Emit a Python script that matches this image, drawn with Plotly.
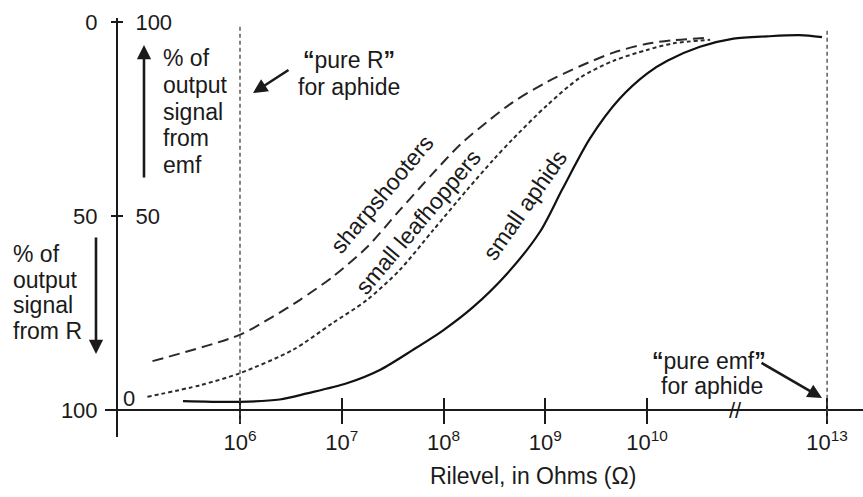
import plotly.graph_objects as go

# ---------------- data ----------------
# x = position on the (broken) log axis, expressed as the decade exponent; 10^13 sits just after the break
TICK_POS = [6, 7, 8, 9, 10, 11.77]
TICK_LABELS = ["10<sup>6</sup>", "10<sup>7</sup>", "10<sup>8</sup>", "10<sup>9</sup>",
               "10<sup>10</sup>", "10<sup>13</sup>"]
REF_LINES = [6, 11.77]          # "pure R" and "pure emf" for aphids
BREAK_POS = 10.87               # axis break mark

# y = % of output signal from emf
sharp_x = [5.14, 5.99, 6.32, 6.59, 6.91, 7.25, 7.57, 7.90, 8.16, 8.43, 8.68, 9.02, 9.34, 9.67, 10.0, 10.26, 10.59]
sharp_y = [12.6, 19.3, 24.0, 28.4, 34.3, 42.0, 51.5, 61.1, 68.3, 74.3, 79.3, 84.6, 88.6, 92.1, 94.4, 95.3, 95.9]

leaf_x = [5.09, 5.61, 6.0, 6.52, 6.91, 7.25, 7.57, 7.90, 8.23, 8.49, 8.68, 9.02, 9.34, 9.67, 10.0, 10.26, 10.62]
leaf_y = [3.4, 6.4, 9.5, 15.5, 22.4, 28.4, 36.1, 46.4, 56.7, 64.5, 69.8, 78.6, 85.6, 90.0, 92.8, 94.5, 95.4]

aph_x = [5.44, 6.0, 6.39, 6.66, 7.05, 7.38, 7.70, 8.0, 8.29, 8.62, 8.95, 9.17, 9.44, 9.73, 10.0,
         10.20, 10.52, 10.85, 11.18, 11.50, 11.72]
aph_y = [2.3, 2.1, 2.7, 4.3, 6.9, 10.4, 15.5, 20.6, 26.5, 35.0, 46.0, 57.0, 70.0, 80.2, 86.7,
         90.0, 93.6, 95.7, 96.3, 96.6, 96.1]

Y_LEFT_VALS = [0, 50, 100]
Y_LEFT_TEXT = ["100", "50", "0"]
Y_RIGHT_VALS = [50, 100]
Y_RIGHT_TEXT = ["50", "100"]

# ---------------- layout geometry ----------------
W, H = 863, 497
L, R, T, B = 105, 0, 18, 60
PW, PH = W - L - R, H - T - B
PX_DEC = 101.75          # pixels per decade
PX_PCT = 3.88            # pixels per percent
X_AXIS_PX = 410          # pixel row of the x axis line
Y_AXIS_PX = 117          # pixel column of the y axis line
x0 = 6 - (240 - L) / PX_DEC
x1 = x0 + PW / PX_DEC
y1 = (X_AXIS_PX - T) / PX_PCT
y0 = y1 - PH / PX_PCT

def xp(px):
    return (px - L) / PW

def yp(py):
    return (H - B - py) / PH

FONT = "Liberation Sans, Arial, sans-serif"
INK = "#1a1a1a"
FS = 23

fig = go.Figure()
fig.add_trace(go.Scatter(x=sharp_x, y=sharp_y, mode="lines", line=dict(color="#2a2a2a", width=2, dash="11px,6px", shape="spline", smoothing=0.8), hoverinfo="skip", showlegend=False))
fig.add_trace(go.Scatter(x=leaf_x, y=leaf_y, mode="lines", line=dict(color="#2a2a2a", width=2, dash="4px,3px", shape="spline", smoothing=0.8), hoverinfo="skip", showlegend=False))
fig.add_trace(go.Scatter(x=aph_x, y=aph_y, mode="lines", line=dict(color="#111111", width=2.2, shape="spline", smoothing=0.8), hoverinfo="skip", showlegend=False))
# invisible trace so the overlay axes (for crossing ticks) are drawn
fig.add_trace(go.Scatter(x=[None], y=[None], xaxis="x2", yaxis="y2", hoverinfo="skip", showlegend=False))

for xv, ya, yb in zip(REF_LINES, [-3.3, -2.5], [99.5, 98.0]):
    fig.add_shape(type="line", x0=xv, x1=xv, y0=ya, y1=yb, xref="x", yref="y",
                  line=dict(color="#444", width=1.3, dash="4px,3px"))

xpos = (H - B - X_AXIS_PX) / PH
ypos = (Y_AXIS_PX - L) / PW
common_x = dict(range=[x0, x1], showgrid=False, zeroline=False, fixedrange=True,
                tickvals=TICK_POS, anchor="free", position=xpos,
                tickcolor=INK, tickwidth=2)
common_y = dict(range=[y0, y1], showgrid=False, zeroline=False, fixedrange=True,
                anchor="free", position=ypos, tickcolor=INK, tickwidth=2)

fig.update_layout(
    width=W, height=H, margin=dict(l=L, r=R, t=T, b=B),
    paper_bgcolor="white", plot_bgcolor="white",
    font=dict(family=FONT, size=FS, color=INK),
    xaxis=dict(**common_x, ticktext=TICK_LABELS, showline=True, linecolor=INK, linewidth=2,
               ticks="outside", ticklen=13, tickfont=dict(size=FS - 1, color=INK)),
    xaxis2=dict(**common_x, overlaying="x", ticks="inside", ticklen=12, showticklabels=False, showline=False),
    yaxis=dict(**common_y, tickvals=Y_LEFT_VALS, ticktext=Y_LEFT_TEXT, showline=True, linecolor=INK,
               linewidth=2, ticks="outside", ticklen=5, ticklabelstandoff=9,
               tickfont=dict(size=FS - 1, color=INK)),
    yaxis2=dict(**common_y, overlaying="y", side="right", tickvals=Y_RIGHT_VALS, ticktext=Y_RIGHT_TEXT,
                ticks="outside", ticklen=5, ticklabelstandoff=8, showline=False,
                tickfont=dict(size=FS - 1, color=INK)),
    showlegend=False,
)

ann = []
def text(px, py, s, xa="left", ya="middle", size=FS, angle=0):
    ann.append(dict(x=xp(px), y=yp(py), xref="paper", yref="paper", text=s, showarrow=False,
                    xanchor=xa, yanchor=ya, textangle=angle, font=dict(size=size, color=INK, family=FONT)))

def arrow(hx, hy, tx, ty):
    ann.append(dict(x=xp(hx), y=yp(hy), xref="paper", yref="paper", text="", showarrow=True,
                    ax=tx - hx, ay=ty - hy, axref="pixel", ayref="pixel",
                    arrowhead=2, arrowsize=1.1, arrowwidth=2.6, arrowcolor=INK, standoff=0))

for i, s in enumerate(["% of", "output", "signal", "from", "emf"]):
    text(161, 58 + i * 26.8, s)
for i, s in enumerate(["% of", "output", "signal", "from R"]):
    text(11, 254 + i * 25.5, s)
arrow(144, 45, 144, 179)
arrow(96, 354, 96, 236)

# bottom "0" of the emf scale (drawn just above the x axis)
text(121, 398, "0", size=FS - 1)

text(349, 60, "<b>“</b>pure R<b>”</b>", xa="center")
text(349, 87, "for aphide", xa="center")
arrow(253, 93, 290, 69)
text(709, 361, "<b>“</b>pure emf<b>”</b>", xa="center")
text(712, 386, "for aphide", xa="center")
arrow(822, 398, 760, 362)

text(382, 194, "sharpshooters", xa="center", angle=-50)
text(418, 222, "small leafhoppers", xa="center", angle=-50)
text(525, 205, "small aphids", xa="center", angle=-55)

text(533, 476, "Rilevel, in Ohms (Ω)", xa="center")

ann.append(dict(x=BREAK_POS, y=0, xref="x", yref="y", text="//", showarrow=False,
                font=dict(size=22, color=INK, family=FONT), xanchor="center", yanchor="middle"))

fig.update_layout(annotations=ann)
fig.write_html("out.html", config={"displayModeBar": False, "staticPlot": True},
               post_script="document.body.style.margin='0';document.body.style.overflow='hidden';")
